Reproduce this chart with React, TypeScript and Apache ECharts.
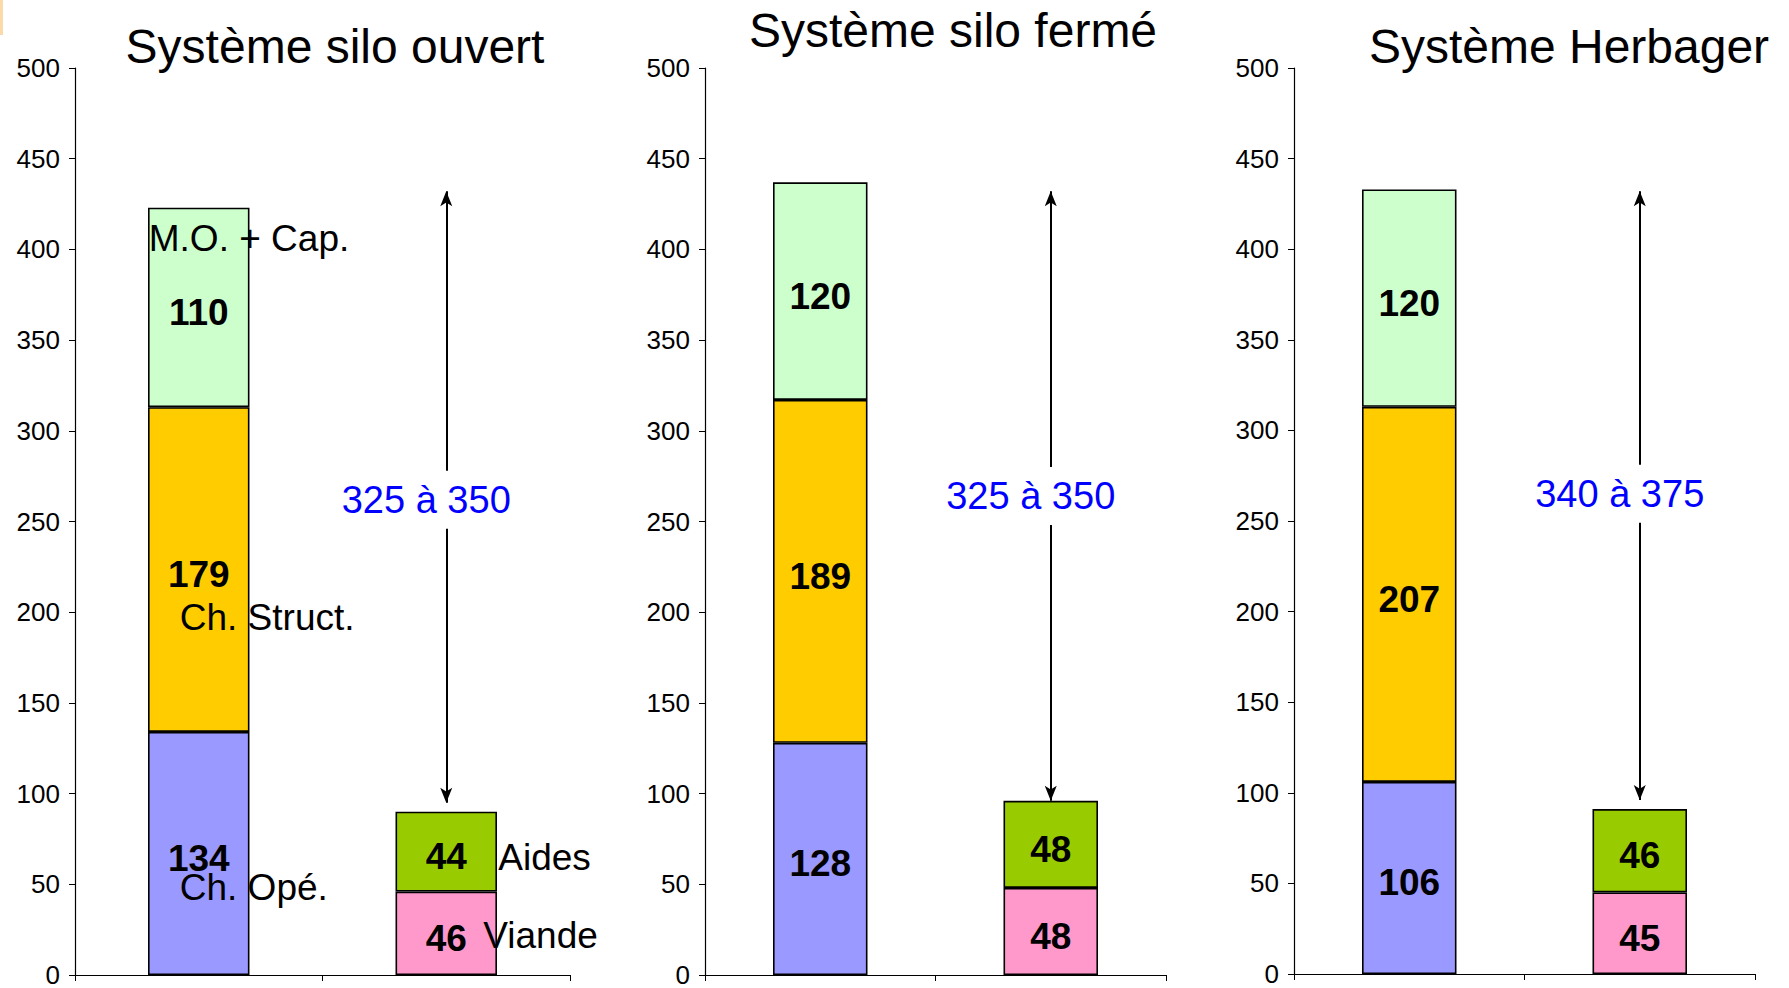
import React, { useEffect, useRef } from "react";
import * as echarts from "echarts";

// ---- data ----
const categories = ["Charges", "Produits"];
const panelTitles = ["Système silo ouvert", "Système silo fermé", "Système Herbager"];
const chOpe = [134, 128, 106];
const chStruct = [179, 189, 207];
const moCap = [110, 120, 120];
const viande = [46, 48, 45];
const aides = [44, 48, 46];
const rangeText = ["325 à 350", "325 à 350", "340 à 375"];
const arrowTop = [432, 432, 432];
const arrowBottom = [95, 96, 96];
const rangeTextValue = [262, 264, 265];
const yTicks = { min: 0, max: 500, interval: 50 };

// segment names shown beside the first panel's bars
const segmentNames = ["M.O. + Cap.", "Ch. Struct.", "Ch. Opé.", "Aides", "Viande"];
const segmentNameCategory = [0, 0, 0, 1, 1];
const segmentNameValue = [406, 197, 48, 65, 22];

// ---- layout / style ----
const grids = [
  { left: 75, top: 68, width: 495, height: 911 },
  { left: 705, top: 68, width: 461, height: 911 },
  { left: 1294, top: 68, width: 461, height: 906 },
];
const titlePos = [
  { x: 335, y: 46 },
  { x: 953, y: 30 },
  { x: 1569, y: 46 },
];
const segmentNameOffsetX = [-50, -19, -19, 52, 37];
const colors = {
  chOpe: "#9999ff",
  chStruct: "#ffcc00",
  moCap: "#ccffcc",
  viande: "#ff99cc",
  aides: "#99cc00",
};
const NARROW = "'Liberation Sans Narrow', 'Arial Narrow', 'Liberation Sans', Arial, sans-serif";
const SANS = "'Liberation Sans', Arial, sans-serif";

function buildOption() {
  const grid = grids.map((g) => ({ ...g, containLabel: false }));
  const xAxis = grids.map((_, i) => ({
    type: "category",
    gridIndex: i,
    data: categories,
    axisLabel: { show: false },
    axisLine: { lineStyle: { color: "#000", width: 1.2 } },
    axisTick: { show: true, interval: 0, alignWithLabel: false, length: 6, lineStyle: { color: "#000" } },
    splitLine: { show: false },
  }));
  const yAxis = grids.map((_, i) => ({
    type: "value",
    gridIndex: i,
    min: yTicks.min,
    max: yTicks.max,
    interval: yTicks.interval,
    axisLine: { show: true, lineStyle: { color: "#000", width: 1.2 } },
    axisTick: { show: true, length: 6, lineStyle: { color: "#000" } },
    axisLabel: { color: "#000", fontSize: 26, fontFamily: NARROW, margin: 15 },
    splitLine: { show: false },
  }));

  const valueLabel = {
    show: true,
    position: "inside",
    offset: [0, 5],
    color: "#000",
    fontSize: 37,
    fontWeight: "bold",
    fontFamily: NARROW,
  };
  const barItem = (c: string) => ({ color: c, borderColor: "#000", borderWidth: 1.6 });

  const series: any[] = [];
  grids.forEach((_, i) => {
    const common = {
      type: "bar",
      xAxisIndex: i,
      yAxisIndex: i,
      stack: "s" + i,
      barWidth: "41%",
      label: valueLabel,
      silent: true,
    };
    series.push({ ...common, name: "Ch. Opé.", data: [chOpe[i], "-"], itemStyle: barItem(colors.chOpe) });
    series.push({ ...common, name: "Ch. Struct.", data: [chStruct[i], "-"], itemStyle: barItem(colors.chStruct) });
    series.push({ ...common, name: "M.O. + Cap.", data: [moCap[i], "-"], itemStyle: barItem(colors.moCap) });
    series.push({ ...common, name: "Viande", data: ["-", viande[i]], itemStyle: barItem(colors.viande) });
    series.push({ ...common, name: "Aides", data: ["-", aides[i]], itemStyle: barItem(colors.aides) });

    // double arrow
    series.push({
      type: "line",
      xAxisIndex: i,
      yAxisIndex: i,
      data: [],
      z: 3,
      silent: true,
      markLine: {
        silent: true,
        symbol: ["arrow", "arrow"],
        symbolSize: [9, 15],
        lineStyle: { color: "#000", width: 2, type: "solid" },
        label: { show: false },
        data: [[{ coord: [categories[1], arrowTop[i]] }, { coord: [categories[1], arrowBottom[i]] }]],
      },
    });

    // range text
    series.push({
      type: "scatter",
      xAxisIndex: i,
      yAxisIndex: i,
      z: 10,
      silent: true,
      symbolSize: 0,
      itemStyle: { opacity: 1 },
      data: [[categories[1], rangeTextValue[i]]],
      label: {
        show: true,
        position: "inside",
        align: "center",
        verticalAlign: "middle",
        offset: [-20, 0],
        formatter: () => rangeText[i],
        color: "#0000ff",
        fontSize: 38,
        fontFamily: SANS,
        backgroundColor: "#fff",
        padding: [10, 2],
      },
    });
  });

  // segment names in first panel
  series.push({
    type: "scatter",
    xAxisIndex: 0,
    yAxisIndex: 0,
    z: 10,
    silent: true,
    symbolSize: 0,
    itemStyle: { opacity: 1 },
    data: segmentNames.map((n, k) => ({
      value: [categories[segmentNameCategory[k]], segmentNameValue[k]],
      label: { offset: [segmentNameOffsetX[k], 0] },
    })),
    label: {
      show: true,
      position: "inside",
      align: "left",
      verticalAlign: "middle",
      formatter: (p: any) => segmentNames[p.dataIndex],
      color: "#000",
      fontSize: 37,
      fontFamily: SANS,
    },
  });

  const graphic: any[] = [
    { type: "rect", left: 0, top: 0, shape: { x: 0, y: 0, width: 3, height: 35 }, style: { fill: "#fbd9a8" } },
  ];
  panelTitles.forEach((t, i) => {
    graphic.push({
      type: "text",
      x: titlePos[i].x,
      y: titlePos[i].y,
      style: {
        text: t,
        fill: "#000",
        font: `48px ${SANS}`,
        textAlign: "center",
        textVerticalAlign: "middle",
      },
    });
  });

  return {
    animation: false,
    backgroundColor: "#ffffff",
    grid,
    xAxis,
    yAxis,
    series,
    graphic,
  };
}

export default function App() {
  const ref = useRef<HTMLDivElement>(null);
  useEffect(() => {
    if (!ref.current) return;
    const chart = echarts.init(ref.current, undefined, { renderer: "svg" });
    chart.setOption(buildOption() as any);
    return () => chart.dispose();
  }, []);
  return (
    <div
      ref={ref}
      style={{ position: "absolute", left: 0, top: 0, width: 1789, height: 988, background: "#fff" }}
    />
  );
}
